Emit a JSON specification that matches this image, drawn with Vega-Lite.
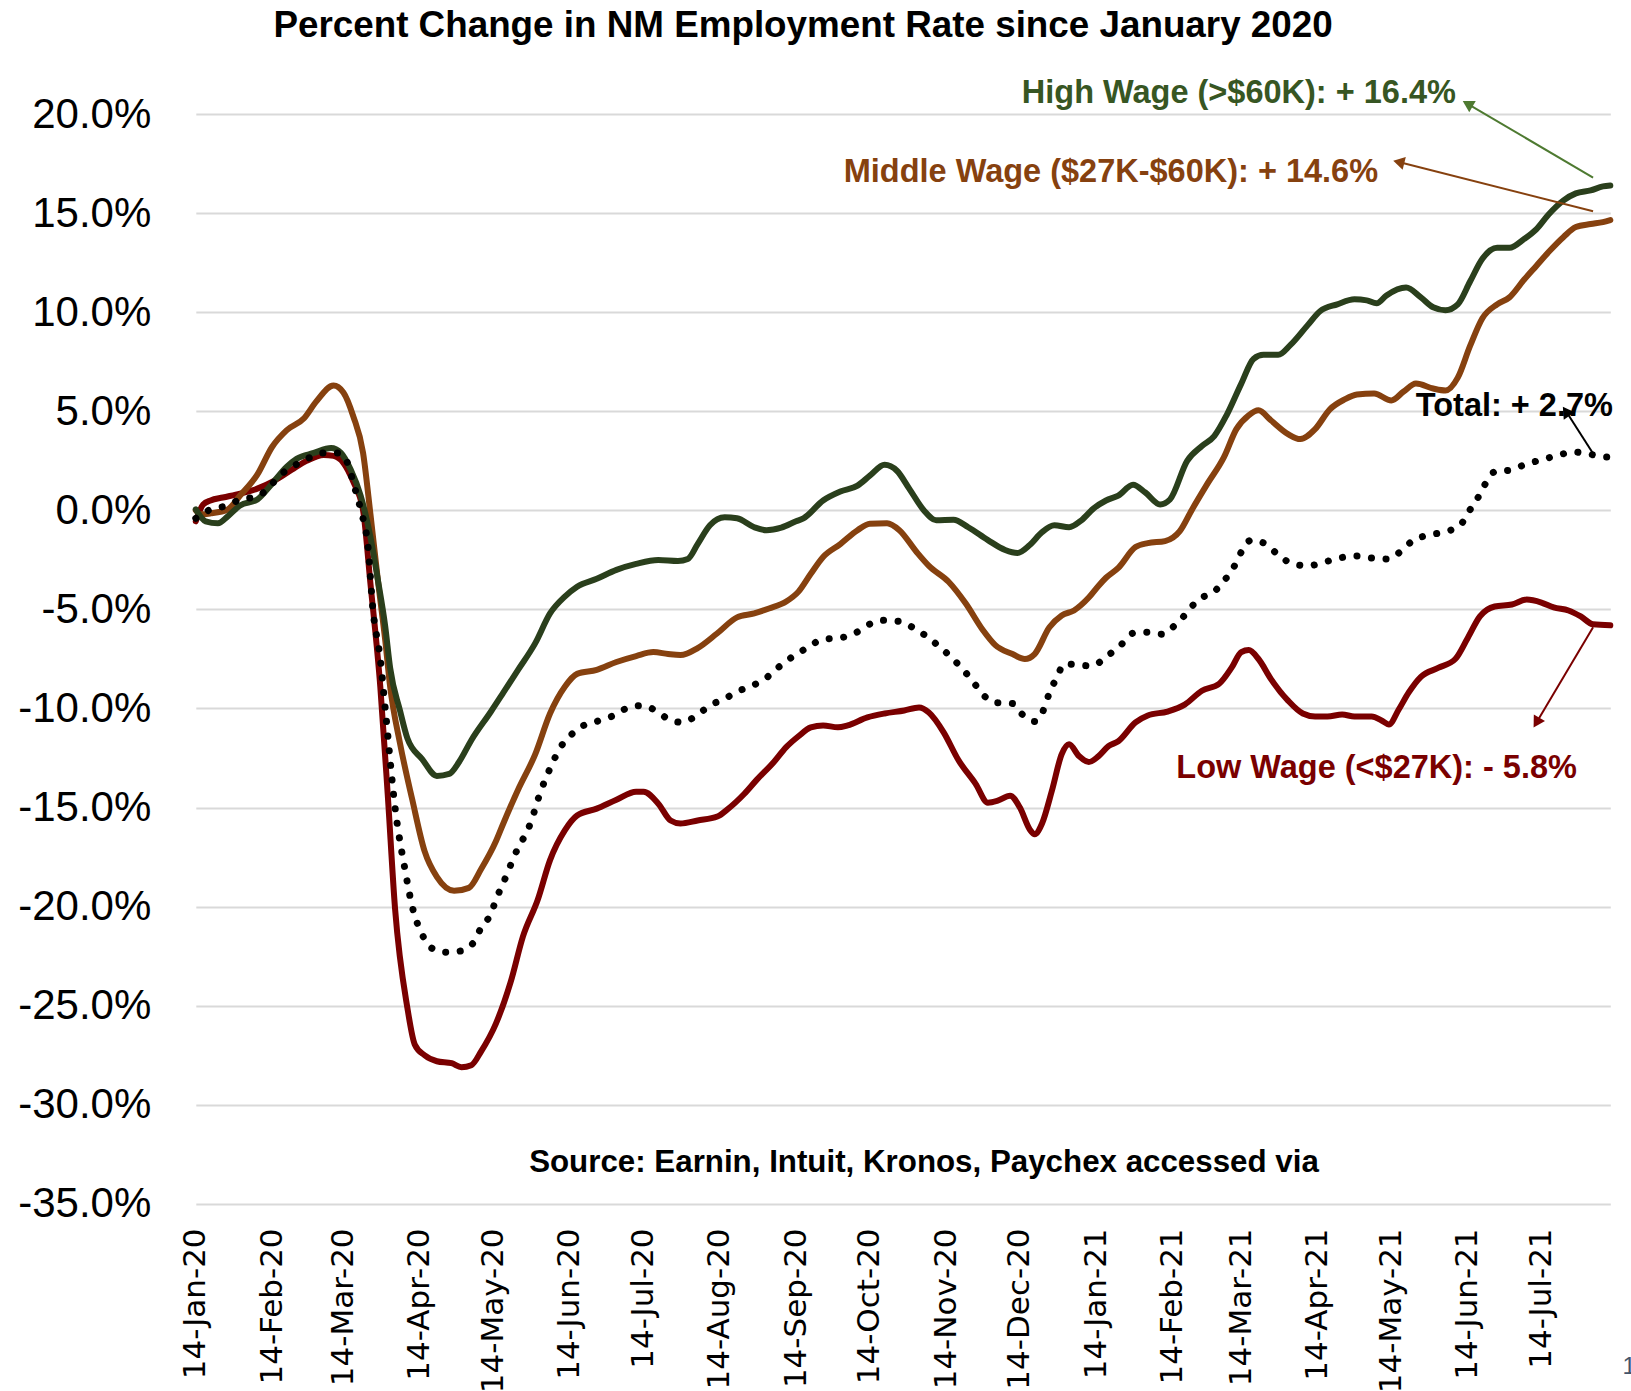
{
  "$schema": "https://vega.github.io/schema/vega-lite/v6.json",
  "width": 1414.5,
  "height": 1089.8,
  "autosize": {"type": "none"},
  "padding": {"left": 195.8, "top": 114.1, "right": 20.7, "bottom": 187.1},
  "background": "white",
  "config": {"view": {"stroke": null}, "font": "Liberation Sans"},
  "title": {
    "text": "Percent Change in NM Employment Rate since January 2020",
    "font": "Liberation Sans", "fontSize": 36.8, "fontWeight": "bold", "color": "black",
    "anchor": "middle", "frame": "group", "dx": -100, "offset": 3, "baseline": "alphabetic"
  },
  "datasets": {
    "series": [
      {"date":"2020-01-14","series":"High","pct":0.05},
      {"date":"2020-01-18","series":"High","pct":-0.55},
      {"date":"2020-01-23","series":"High","pct":-0.65},
      {"date":"2020-01-27","series":"High","pct":-0.3},
      {"date":"2020-02-01","series":"High","pct":0.25},
      {"date":"2020-02-08","series":"High","pct":0.55},
      {"date":"2020-02-14","series":"High","pct":1.35},
      {"date":"2020-02-20","series":"High","pct":2.2},
      {"date":"2020-02-24","series":"High","pct":2.6},
      {"date":"2020-03-02","series":"High","pct":2.9},
      {"date":"2020-03-09","series":"High","pct":3.15},
      {"date":"2020-03-13","series":"High","pct":2.9},
      {"date":"2020-03-17","series":"High","pct":2.05},
      {"date":"2020-03-21","series":"High","pct":0.75},
      {"date":"2020-03-25","series":"High","pct":-1.35},
      {"date":"2020-03-28","series":"High","pct":-3.5},
      {"date":"2020-03-31","series":"High","pct":-5.85},
      {"date":"2020-04-02","series":"High","pct":-7.95},
      {"date":"2020-04-06","series":"High","pct":-10.1},
      {"date":"2020-04-09","series":"High","pct":-11.5},
      {"date":"2020-04-15","series":"High","pct":-12.55},
      {"date":"2020-04-21","series":"High","pct":-13.4},
      {"date":"2020-04-26","series":"High","pct":-13.3},
      {"date":"2020-04-30","series":"High","pct":-12.7},
      {"date":"2020-05-05","series":"High","pct":-11.6},
      {"date":"2020-05-13","series":"High","pct":-10.15},
      {"date":"2020-05-18","series":"High","pct":-9.2},
      {"date":"2020-05-24","series":"High","pct":-8.05},
      {"date":"2020-05-31","series":"High","pct":-6.7},
      {"date":"2020-06-06","series":"High","pct":-5.2},
      {"date":"2020-06-12","series":"High","pct":-4.35},
      {"date":"2020-06-17","series":"High","pct":-3.85},
      {"date":"2020-06-25","series":"High","pct":-3.45},
      {"date":"2020-07-03","series":"High","pct":-3.0},
      {"date":"2020-07-11","series":"High","pct":-2.7},
      {"date":"2020-07-20","series":"High","pct":-2.5},
      {"date":"2020-07-28","series":"High","pct":-2.55},
      {"date":"2020-08-01","series":"High","pct":-2.45},
      {"date":"2020-08-05","series":"High","pct":-1.7},
      {"date":"2020-08-10","series":"High","pct":-0.75},
      {"date":"2020-08-16","series":"High","pct":-0.35},
      {"date":"2020-08-21","series":"High","pct":-0.4},
      {"date":"2020-08-28","series":"High","pct":-0.85},
      {"date":"2020-09-02","series":"High","pct":-1.0},
      {"date":"2020-09-08","series":"High","pct":-0.87},
      {"date":"2020-09-14","series":"High","pct":-0.55},
      {"date":"2020-09-17","series":"High","pct":-0.4},
      {"date":"2020-09-25","series":"High","pct":0.5},
      {"date":"2020-10-02","series":"High","pct":0.95},
      {"date":"2020-10-09","series":"High","pct":1.25},
      {"date":"2020-10-14","series":"High","pct":1.75},
      {"date":"2020-10-20","series":"High","pct":2.3},
      {"date":"2020-10-25","series":"High","pct":2.0},
      {"date":"2020-10-30","series":"High","pct":1.1},
      {"date":"2020-11-05","series":"High","pct":0.0},
      {"date":"2020-11-10","series":"High","pct":-0.5},
      {"date":"2020-11-17","series":"High","pct":-0.47},
      {"date":"2020-11-23","series":"High","pct":-0.85},
      {"date":"2020-12-01","series":"High","pct":-1.5},
      {"date":"2020-12-08","series":"High","pct":-2.0},
      {"date":"2020-12-13","series":"High","pct":-2.15},
      {"date":"2020-12-18","series":"High","pct":-1.75},
      {"date":"2020-12-23","series":"High","pct":-1.1},
      {"date":"2020-12-28","series":"High","pct":-0.75},
      {"date":"2021-01-03","series":"High","pct":-0.85},
      {"date":"2021-01-08","series":"High","pct":-0.5},
      {"date":"2021-01-13","series":"High","pct":0.1},
      {"date":"2021-01-18","series":"High","pct":0.5},
      {"date":"2021-01-23","series":"High","pct":0.75},
      {"date":"2021-01-29","series":"High","pct":1.3},
      {"date":"2021-02-03","series":"High","pct":0.9},
      {"date":"2021-02-09","series":"High","pct":0.3},
      {"date":"2021-02-13","series":"High","pct":0.55},
      {"date":"2021-02-20","series":"High","pct":2.5},
      {"date":"2021-02-26","series":"High","pct":3.25},
      {"date":"2021-03-03","series":"High","pct":3.75},
      {"date":"2021-03-08","series":"High","pct":4.8},
      {"date":"2021-03-14","series":"High","pct":6.4},
      {"date":"2021-03-19","series":"High","pct":7.65},
      {"date":"2021-03-23","series":"High","pct":7.85},
      {"date":"2021-03-29","series":"High","pct":7.85},
      {"date":"2021-04-03","series":"High","pct":8.35},
      {"date":"2021-04-10","series":"High","pct":9.35},
      {"date":"2021-04-15","series":"High","pct":10.05},
      {"date":"2021-04-22","series":"High","pct":10.4},
      {"date":"2021-04-29","series":"High","pct":10.65},
      {"date":"2021-05-04","series":"High","pct":10.6},
      {"date":"2021-05-08","series":"High","pct":10.45},
      {"date":"2021-05-12","series":"High","pct":10.85},
      {"date":"2021-05-20","series":"High","pct":11.25},
      {"date":"2021-05-26","series":"High","pct":10.75},
      {"date":"2021-05-31","series":"High","pct":10.25},
      {"date":"2021-06-05","series":"High","pct":10.1},
      {"date":"2021-06-10","series":"High","pct":10.4},
      {"date":"2021-06-15","series":"High","pct":11.55},
      {"date":"2021-06-20","series":"High","pct":12.7},
      {"date":"2021-06-26","series":"High","pct":13.25},
      {"date":"2021-07-01","series":"High","pct":13.25},
      {"date":"2021-07-07","series":"High","pct":13.7},
      {"date":"2021-07-12","series":"High","pct":14.2},
      {"date":"2021-07-17","series":"High","pct":14.95},
      {"date":"2021-07-23","series":"High","pct":15.65},
      {"date":"2021-07-28","series":"High","pct":16.0},
      {"date":"2021-08-03","series":"High","pct":16.15},
      {"date":"2021-08-08","series":"High","pct":16.35},
      {"date":"2021-08-11","series":"High","pct":16.4},

      {"date":"2020-01-14","series":"Middle","pct":0.0},
      {"date":"2020-01-16","series":"Middle","pct":-0.2},
      {"date":"2020-01-20","series":"Middle","pct":-0.15},
      {"date":"2020-01-27","series":"Middle","pct":0.05},
      {"date":"2020-02-01","series":"Middle","pct":0.75},
      {"date":"2020-02-08","series":"Middle","pct":1.8},
      {"date":"2020-02-14","series":"Middle","pct":3.2},
      {"date":"2020-02-20","series":"Middle","pct":4.05},
      {"date":"2020-02-27","series":"Middle","pct":4.65},
      {"date":"2020-03-03","series":"Middle","pct":5.5},
      {"date":"2020-03-10","series":"Middle","pct":6.3},
      {"date":"2020-03-14","series":"Middle","pct":5.95},
      {"date":"2020-03-18","series":"Middle","pct":4.75},
      {"date":"2020-03-22","series":"Middle","pct":2.9},
      {"date":"2020-03-25","series":"Middle","pct":-0.2},
      {"date":"2020-03-28","series":"Middle","pct":-3.5},
      {"date":"2020-03-31","series":"Middle","pct":-6.55},
      {"date":"2020-04-02","series":"Middle","pct":-8.9},
      {"date":"2020-04-06","series":"Middle","pct":-11.75},
      {"date":"2020-04-11","series":"Middle","pct":-14.6},
      {"date":"2020-04-16","series":"Middle","pct":-17.2},
      {"date":"2020-04-21","series":"Middle","pct":-18.5},
      {"date":"2020-04-28","series":"Middle","pct":-19.2},
      {"date":"2020-05-04","series":"Middle","pct":-19.05},
      {"date":"2020-05-09","series":"Middle","pct":-18.1},
      {"date":"2020-05-15","series":"Middle","pct":-16.7},
      {"date":"2020-05-18","series":"Middle","pct":-15.8},
      {"date":"2020-05-24","series":"Middle","pct":-14.1},
      {"date":"2020-05-31","series":"Middle","pct":-12.3},
      {"date":"2020-06-06","series":"Middle","pct":-10.25},
      {"date":"2020-06-12","series":"Middle","pct":-8.9},
      {"date":"2020-06-17","series":"Middle","pct":-8.25},
      {"date":"2020-06-25","series":"Middle","pct":-8.05},
      {"date":"2020-07-03","series":"Middle","pct":-7.65},
      {"date":"2020-07-11","series":"Middle","pct":-7.35},
      {"date":"2020-07-18","series":"Middle","pct":-7.15},
      {"date":"2020-07-24","series":"Middle","pct":-7.25},
      {"date":"2020-07-29","series":"Middle","pct":-7.3},
      {"date":"2020-08-05","series":"Middle","pct":-6.95},
      {"date":"2020-08-13","series":"Middle","pct":-6.2},
      {"date":"2020-08-21","series":"Middle","pct":-5.4},
      {"date":"2020-08-28","series":"Middle","pct":-5.2},
      {"date":"2020-09-03","series":"Middle","pct":-4.95},
      {"date":"2020-09-10","series":"Middle","pct":-4.6},
      {"date":"2020-09-15","series":"Middle","pct":-4.1},
      {"date":"2020-09-20","series":"Middle","pct":-3.2},
      {"date":"2020-09-25","series":"Middle","pct":-2.35},
      {"date":"2020-10-02","series":"Middle","pct":-1.7},
      {"date":"2020-10-09","series":"Middle","pct":-1.0},
      {"date":"2020-10-14","series":"Middle","pct":-0.67},
      {"date":"2020-10-21","series":"Middle","pct":-0.65},
      {"date":"2020-10-26","series":"Middle","pct":-1.0},
      {"date":"2020-11-02","series":"Middle","pct":-2.1},
      {"date":"2020-11-07","series":"Middle","pct":-2.8},
      {"date":"2020-11-15","series":"Middle","pct":-3.6},
      {"date":"2020-11-22","series":"Middle","pct":-4.7},
      {"date":"2020-11-29","series":"Middle","pct":-6.05},
      {"date":"2020-12-04","series":"Middle","pct":-6.8},
      {"date":"2020-12-11","series":"Middle","pct":-7.25},
      {"date":"2020-12-16","series":"Middle","pct":-7.5},
      {"date":"2020-12-20","series":"Middle","pct":-7.25},
      {"date":"2020-12-26","series":"Middle","pct":-5.9},
      {"date":"2020-12-31","series":"Middle","pct":-5.3},
      {"date":"2021-01-05","series":"Middle","pct":-5.05},
      {"date":"2021-01-11","series":"Middle","pct":-4.4},
      {"date":"2021-01-15","series":"Middle","pct":-3.8},
      {"date":"2021-01-18","series":"Middle","pct":-3.4},
      {"date":"2021-01-23","series":"Middle","pct":-2.9},
      {"date":"2021-01-30","series":"Middle","pct":-1.85},
      {"date":"2021-02-04","series":"Middle","pct":-1.65},
      {"date":"2021-02-11","series":"Middle","pct":-1.55},
      {"date":"2021-02-17","series":"Middle","pct":-1.05},
      {"date":"2021-02-22","series":"Middle","pct":0.05},
      {"date":"2021-02-28","series":"Middle","pct":1.3},
      {"date":"2021-03-07","series":"Middle","pct":2.7},
      {"date":"2021-03-12","series":"Middle","pct":4.1},
      {"date":"2021-03-17","series":"Middle","pct":4.8},
      {"date":"2021-03-21","series":"Middle","pct":5.05},
      {"date":"2021-03-26","series":"Middle","pct":4.55},
      {"date":"2021-04-02","series":"Middle","pct":3.85},
      {"date":"2021-04-07","series":"Middle","pct":3.6},
      {"date":"2021-04-13","series":"Middle","pct":4.1},
      {"date":"2021-04-19","series":"Middle","pct":5.1},
      {"date":"2021-04-25","series":"Middle","pct":5.6},
      {"date":"2021-04-30","series":"Middle","pct":5.85},
      {"date":"2021-05-07","series":"Middle","pct":5.9},
      {"date":"2021-05-14","series":"Middle","pct":5.55},
      {"date":"2021-05-19","series":"Middle","pct":6.0},
      {"date":"2021-05-24","series":"Middle","pct":6.4},
      {"date":"2021-05-31","series":"Middle","pct":6.15},
      {"date":"2021-06-05","series":"Middle","pct":6.05},
      {"date":"2021-06-10","series":"Middle","pct":6.7},
      {"date":"2021-06-15","series":"Middle","pct":8.3},
      {"date":"2021-06-20","series":"Middle","pct":9.7},
      {"date":"2021-06-26","series":"Middle","pct":10.4},
      {"date":"2021-07-01","series":"Middle","pct":10.75},
      {"date":"2021-07-07","series":"Middle","pct":11.65},
      {"date":"2021-07-12","series":"Middle","pct":12.35},
      {"date":"2021-07-17","series":"Middle","pct":13.05},
      {"date":"2021-07-23","series":"Middle","pct":13.8},
      {"date":"2021-07-28","series":"Middle","pct":14.3},
      {"date":"2021-08-03","series":"Middle","pct":14.45},
      {"date":"2021-08-08","series":"Middle","pct":14.55},
      {"date":"2021-08-11","series":"Middle","pct":14.65},

      {"date":"2020-01-14","series":"Low","pct":-0.55},
      {"date":"2020-01-17","series":"Low","pct":0.3},
      {"date":"2020-01-20","series":"Low","pct":0.5},
      {"date":"2020-01-25","series":"Low","pct":0.65},
      {"date":"2020-02-01","series":"Low","pct":0.85},
      {"date":"2020-02-08","series":"Low","pct":1.1},
      {"date":"2020-02-15","series":"Low","pct":1.5},
      {"date":"2020-02-22","series":"Low","pct":2.05},
      {"date":"2020-02-28","series":"Low","pct":2.5},
      {"date":"2020-03-06","series":"Low","pct":2.8},
      {"date":"2020-03-10","series":"Low","pct":2.75},
      {"date":"2020-03-14","series":"Low","pct":2.4},
      {"date":"2020-03-18","series":"Low","pct":1.45},
      {"date":"2020-03-22","series":"Low","pct":0.0},
      {"date":"2020-03-25","series":"Low","pct":-3.7},
      {"date":"2020-03-29","series":"Low","pct":-8.9},
      {"date":"2020-04-01","series":"Low","pct":-14.3},
      {"date":"2020-04-04","series":"Low","pct":-20.1},
      {"date":"2020-04-09","series":"Low","pct":-25.1},
      {"date":"2020-04-12","series":"Low","pct":-26.95},
      {"date":"2020-04-16","series":"Low","pct":-27.5},
      {"date":"2020-04-21","series":"Low","pct":-27.8},
      {"date":"2020-04-27","series":"Low","pct":-27.9},
      {"date":"2020-05-01","series":"Low","pct":-28.1},
      {"date":"2020-05-05","series":"Low","pct":-28.0},
      {"date":"2020-05-09","series":"Low","pct":-27.3},
      {"date":"2020-05-15","series":"Low","pct":-25.9},
      {"date":"2020-05-21","series":"Low","pct":-23.8},
      {"date":"2020-05-26","series":"Low","pct":-21.5},
      {"date":"2020-06-01","series":"Low","pct":-19.65},
      {"date":"2020-06-06","series":"Low","pct":-17.65},
      {"date":"2020-06-12","series":"Low","pct":-16.15},
      {"date":"2020-06-17","series":"Low","pct":-15.4},
      {"date":"2020-06-25","series":"Low","pct":-15.05},
      {"date":"2020-07-03","series":"Low","pct":-14.6},
      {"date":"2020-07-11","series":"Low","pct":-14.2},
      {"date":"2020-07-14","series":"Low","pct":-14.2},
      {"date":"2020-07-20","series":"Low","pct":-14.8},
      {"date":"2020-07-25","series":"Low","pct":-15.65},
      {"date":"2020-07-29","series":"Low","pct":-15.8},
      {"date":"2020-08-05","series":"Low","pct":-15.65},
      {"date":"2020-08-13","series":"Low","pct":-15.45},
      {"date":"2020-08-17","series":"Low","pct":-15.1},
      {"date":"2020-08-24","series":"Low","pct":-14.3},
      {"date":"2020-08-29","series":"Low","pct":-13.6},
      {"date":"2020-09-05","series":"Low","pct":-12.7},
      {"date":"2020-09-10","series":"Low","pct":-11.95},
      {"date":"2020-09-15","series":"Low","pct":-11.4},
      {"date":"2020-09-20","series":"Low","pct":-10.95},
      {"date":"2020-09-25","series":"Low","pct":-10.85},
      {"date":"2020-10-01","series":"Low","pct":-10.95},
      {"date":"2020-10-05","series":"Low","pct":-10.85},
      {"date":"2020-10-13","series":"Low","pct":-10.45},
      {"date":"2020-10-20","series":"Low","pct":-10.25},
      {"date":"2020-10-28","series":"Low","pct":-10.1},
      {"date":"2020-11-03","series":"Low","pct":-9.95},
      {"date":"2020-11-07","series":"Low","pct":-10.2},
      {"date":"2020-11-13","series":"Low","pct":-11.2},
      {"date":"2020-11-19","series":"Low","pct":-12.6},
      {"date":"2020-11-26","series":"Low","pct":-13.8},
      {"date":"2020-12-01","series":"Low","pct":-14.75},
      {"date":"2020-12-05","series":"Low","pct":-14.65},
      {"date":"2020-12-10","series":"Low","pct":-14.4},
      {"date":"2020-12-14","series":"Low","pct":-15.0},
      {"date":"2020-12-18","series":"Low","pct":-16.1},
      {"date":"2020-12-20","series":"Low","pct":-16.35},
      {"date":"2020-12-23","series":"Low","pct":-15.8},
      {"date":"2020-12-27","series":"Low","pct":-14.15},
      {"date":"2020-12-31","series":"Low","pct":-12.3},
      {"date":"2021-01-03","series":"Low","pct":-11.8},
      {"date":"2021-01-07","series":"Low","pct":-12.4},
      {"date":"2021-01-11","series":"Low","pct":-12.7},
      {"date":"2021-01-15","series":"Low","pct":-12.4},
      {"date":"2021-01-19","series":"Low","pct":-11.9},
      {"date":"2021-01-23","series":"Low","pct":-11.65},
      {"date":"2021-01-30","series":"Low","pct":-10.7},
      {"date":"2021-02-04","series":"Low","pct":-10.35},
      {"date":"2021-02-12","series":"Low","pct":-10.15},
      {"date":"2021-02-19","series":"Low","pct":-9.8},
      {"date":"2021-02-26","series":"Low","pct":-9.1},
      {"date":"2021-03-05","series":"Low","pct":-8.75},
      {"date":"2021-03-10","series":"Low","pct":-7.95},
      {"date":"2021-03-14","series":"Low","pct":-7.15},
      {"date":"2021-03-17","series":"Low","pct":-7.05},
      {"date":"2021-03-21","series":"Low","pct":-7.5},
      {"date":"2021-03-26","series":"Low","pct":-8.5},
      {"date":"2021-04-02","series":"Low","pct":-9.6},
      {"date":"2021-04-08","series":"Low","pct":-10.25},
      {"date":"2021-04-13","series":"Low","pct":-10.4},
      {"date":"2021-04-18","series":"Low","pct":-10.4},
      {"date":"2021-04-24","series":"Low","pct":-10.3},
      {"date":"2021-04-29","series":"Low","pct":-10.4},
      {"date":"2021-05-06","series":"Low","pct":-10.4},
      {"date":"2021-05-10","series":"Low","pct":-10.6},
      {"date":"2021-05-13","series":"Low","pct":-10.8},
      {"date":"2021-05-17","series":"Low","pct":-10.05},
      {"date":"2021-05-21","series":"Low","pct":-9.2},
      {"date":"2021-05-26","series":"Low","pct":-8.4},
      {"date":"2021-06-02","series":"Low","pct":-7.95},
      {"date":"2021-06-09","series":"Low","pct":-7.5},
      {"date":"2021-06-14","series":"Low","pct":-6.45},
      {"date":"2021-06-19","series":"Low","pct":-5.35},
      {"date":"2021-06-25","series":"Low","pct":-4.85},
      {"date":"2021-07-02","series":"Low","pct":-4.75},
      {"date":"2021-07-08","series":"Low","pct":-4.5},
      {"date":"2021-07-14","series":"Low","pct":-4.65},
      {"date":"2021-07-19","series":"Low","pct":-4.9},
      {"date":"2021-07-25","series":"Low","pct":-5.05},
      {"date":"2021-07-30","series":"Low","pct":-5.35},
      {"date":"2021-08-04","series":"Low","pct":-5.75},
      {"date":"2021-08-11","series":"Low","pct":-5.8},

      {"date":"2020-01-14","series":"Total","pct":-0.4},
      {"date":"2020-01-20","series":"Total","pct":0.05},
      {"date":"2020-01-27","series":"Total","pct":0.25},
      {"date":"2020-02-01","series":"Total","pct":0.55},
      {"date":"2020-02-08","series":"Total","pct":0.7},
      {"date":"2020-02-13","series":"Total","pct":1.2},
      {"date":"2020-02-17","series":"Total","pct":1.75},
      {"date":"2020-02-23","series":"Total","pct":2.25},
      {"date":"2020-02-29","series":"Total","pct":2.65},
      {"date":"2020-03-06","series":"Total","pct":2.9},
      {"date":"2020-03-12","series":"Total","pct":2.9},
      {"date":"2020-03-16","series":"Total","pct":2.3},
      {"date":"2020-03-18","series":"Total","pct":1.4},
      {"date":"2020-03-21","series":"Total","pct":0.05},
      {"date":"2020-03-24","series":"Total","pct":-1.85},
      {"date":"2020-03-26","series":"Total","pct":-5.0},
      {"date":"2020-03-29","series":"Total","pct":-7.5},
      {"date":"2020-03-31","series":"Total","pct":-10.0},
      {"date":"2020-04-04","series":"Total","pct":-15.0},
      {"date":"2020-04-08","series":"Total","pct":-18.1},
      {"date":"2020-04-11","series":"Total","pct":-20.0},
      {"date":"2020-04-15","series":"Total","pct":-21.4},
      {"date":"2020-04-19","series":"Total","pct":-22.1},
      {"date":"2020-04-24","series":"Total","pct":-22.3},
      {"date":"2020-04-30","series":"Total","pct":-22.25},
      {"date":"2020-05-06","series":"Total","pct":-21.8},
      {"date":"2020-05-09","series":"Total","pct":-21.05},
      {"date":"2020-05-13","series":"Total","pct":-20.35},
      {"date":"2020-05-15","series":"Total","pct":-19.65},
      {"date":"2020-05-18","series":"Total","pct":-18.8},
      {"date":"2020-05-23","series":"Total","pct":-17.3},
      {"date":"2020-05-29","series":"Total","pct":-15.8},
      {"date":"2020-06-02","series":"Total","pct":-14.25},
      {"date":"2020-06-07","series":"Total","pct":-12.75},
      {"date":"2020-06-10","series":"Total","pct":-12.0},
      {"date":"2020-06-14","series":"Total","pct":-11.4},
      {"date":"2020-06-19","series":"Total","pct":-10.9},
      {"date":"2020-06-25","series":"Total","pct":-10.65},
      {"date":"2020-07-01","series":"Total","pct":-10.4},
      {"date":"2020-07-07","series":"Total","pct":-10.0},
      {"date":"2020-07-13","series":"Total","pct":-9.85},
      {"date":"2020-07-19","series":"Total","pct":-10.1},
      {"date":"2020-07-25","series":"Total","pct":-10.6},
      {"date":"2020-07-30","series":"Total","pct":-10.7},
      {"date":"2020-08-05","series":"Total","pct":-10.3},
      {"date":"2020-08-10","series":"Total","pct":-9.85},
      {"date":"2020-08-16","series":"Total","pct":-9.5},
      {"date":"2020-08-22","series":"Total","pct":-9.1},
      {"date":"2020-08-28","series":"Total","pct":-8.8},
      {"date":"2020-09-03","series":"Total","pct":-8.35},
      {"date":"2020-09-08","series":"Total","pct":-7.8},
      {"date":"2020-09-13","series":"Total","pct":-7.35},
      {"date":"2020-09-19","series":"Total","pct":-6.9},
      {"date":"2020-09-25","series":"Total","pct":-6.5},
      {"date":"2020-10-01","series":"Total","pct":-6.45},
      {"date":"2020-10-08","series":"Total","pct":-6.2},
      {"date":"2020-10-13","series":"Total","pct":-5.8},
      {"date":"2020-10-19","series":"Total","pct":-5.55},
      {"date":"2020-10-26","series":"Total","pct":-5.6},
      {"date":"2020-11-01","series":"Total","pct":-5.95},
      {"date":"2020-11-06","series":"Total","pct":-6.35},
      {"date":"2020-11-11","series":"Total","pct":-6.85},
      {"date":"2020-11-16","series":"Total","pct":-7.4},
      {"date":"2020-11-21","series":"Total","pct":-8.05},
      {"date":"2020-11-25","series":"Total","pct":-8.65},
      {"date":"2020-11-29","series":"Total","pct":-9.3},
      {"date":"2020-12-04","series":"Total","pct":-9.7},
      {"date":"2020-12-11","series":"Total","pct":-9.75},
      {"date":"2020-12-15","series":"Total","pct":-10.3},
      {"date":"2020-12-20","series":"Total","pct":-10.65},
      {"date":"2020-12-24","series":"Total","pct":-9.95},
      {"date":"2020-12-26","series":"Total","pct":-9.2},
      {"date":"2020-12-29","series":"Total","pct":-8.45},
      {"date":"2021-01-01","series":"Total","pct":-7.75},
      {"date":"2021-01-07","series":"Total","pct":-7.8},
      {"date":"2021-01-12","series":"Total","pct":-7.85},
      {"date":"2021-01-19","series":"Total","pct":-7.3},
      {"date":"2021-01-24","series":"Total","pct":-6.8},
      {"date":"2021-01-29","series":"Total","pct":-6.2},
      {"date":"2021-02-04","series":"Total","pct":-6.15},
      {"date":"2021-02-10","series":"Total","pct":-6.25},
      {"date":"2021-02-15","series":"Total","pct":-5.8},
      {"date":"2021-02-20","series":"Total","pct":-5.15},
      {"date":"2021-02-24","series":"Total","pct":-4.55},
      {"date":"2021-03-03","series":"Total","pct":-4.1},
      {"date":"2021-03-07","series":"Total","pct":-3.55},
      {"date":"2021-03-11","series":"Total","pct":-2.85},
      {"date":"2021-03-14","series":"Total","pct":-2.1},
      {"date":"2021-03-18","series":"Total","pct":-1.5},
      {"date":"2021-03-24","series":"Total","pct":-1.7},
      {"date":"2021-03-29","series":"Total","pct":-2.25},
      {"date":"2021-04-04","series":"Total","pct":-2.7},
      {"date":"2021-04-10","series":"Total","pct":-2.8},
      {"date":"2021-04-17","series":"Total","pct":-2.6},
      {"date":"2021-04-23","series":"Total","pct":-2.4},
      {"date":"2021-04-30","series":"Total","pct":-2.3},
      {"date":"2021-05-06","series":"Total","pct":-2.4},
      {"date":"2021-05-13","series":"Total","pct":-2.45},
      {"date":"2021-05-18","series":"Total","pct":-2.05},
      {"date":"2021-05-23","series":"Total","pct":-1.5},
      {"date":"2021-05-29","series":"Total","pct":-1.25},
      {"date":"2021-06-04","series":"Total","pct":-1.1},
      {"date":"2021-06-11","series":"Total","pct":-0.75},
      {"date":"2021-06-14","series":"Total","pct":-0.15},
      {"date":"2021-06-18","series":"Total","pct":0.6},
      {"date":"2021-06-21","series":"Total","pct":1.3},
      {"date":"2021-06-25","series":"Total","pct":1.95},
      {"date":"2021-07-02","series":"Total","pct":2.05},
      {"date":"2021-07-07","series":"Total","pct":2.3},
      {"date":"2021-07-14","series":"Total","pct":2.55},
      {"date":"2021-07-20","series":"Total","pct":2.75},
      {"date":"2021-07-27","series":"Total","pct":2.95},
      {"date":"2021-08-02","series":"Total","pct":2.85},
      {"date":"2021-08-09","series":"Total","pct":2.7},
      {"date":"2021-08-11","series":"Total","pct":2.7}
    ],
    "ticks": [
      {"date":"2020-01-14"},{"date":"2020-02-14"},{"date":"2020-03-14"},{"date":"2020-04-14"},
      {"date":"2020-05-14"},{"date":"2020-06-14"},{"date":"2020-07-14"},{"date":"2020-08-14"},
      {"date":"2020-09-14"},{"date":"2020-10-14"},{"date":"2020-11-14"},{"date":"2020-12-14"},
      {"date":"2021-01-14"},{"date":"2021-02-14"},{"date":"2021-03-14"},{"date":"2021-04-14"},
      {"date":"2021-05-14"},{"date":"2021-06-14"},{"date":"2021-07-14"}
    ],
    "axisline": [{"date":"2020-01-14","date2":"2021-08-11"}],
    "arrows": [
      {"series":"High","date":"2021-08-04","pct":16.79,"date2":"2021-06-14","pct2":20.52},
      {"series":"Middle","date":"2021-08-04","pct":15.1,"date2":"2021-05-17","pct2":17.58},
      {"series":"Total","date":"2021-08-04","pct":2.87,"date2":"2021-07-24","pct2":5.0},
      {"series":"Low","date":"2021-08-04","pct":-5.9,"date2":"2021-07-12","pct2":-10.71}
    ],
    "notes": [
      {"label":"High Wage (>$60K): + 16.4%","series":"High","date":"2021-03-13","pct":21.09},
      {"label":"Middle Wage ($27K-$60K): + 14.6%","series":"Middle","date":"2021-01-20","pct":17.1},
      {"label":"Total: + 2.7%","series":"Total","date":"2021-07-03","pct":5.28},
      {"label":"Low Wage (<$27K): - 5.8%","series":"Low","date":"2021-05-08","pct":-12.99}
    ],
    "source": [{"label":"Source: Earnin, Intuit, Kronos, Paychex accessed via","date":"2020-11-05","pct":-32.95}],
    "page": [{"label":"1","date":"2021-08-16","pct":-43.25}]
  },
  "encoding": {
    "x": {
      "field": "date", "type": "temporal", "title": null,
      "scale": {"type": "utc", "nice": false, "domain": [{"year":2020,"month":1,"date":14,"utc":true},{"year":2021,"month":8,"date":11,"utc":true}]},
      "axis": {
        "values": [
          {"year":2020,"month":1,"date":14,"utc":true},{"year":2020,"month":2,"date":14,"utc":true},
          {"year":2020,"month":3,"date":14,"utc":true},{"year":2020,"month":4,"date":14,"utc":true},
          {"year":2020,"month":5,"date":14,"utc":true},{"year":2020,"month":6,"date":14,"utc":true},
          {"year":2020,"month":7,"date":14,"utc":true},{"year":2020,"month":8,"date":14,"utc":true},
          {"year":2020,"month":9,"date":14,"utc":true},{"year":2020,"month":10,"date":14,"utc":true},
          {"year":2020,"month":11,"date":14,"utc":true},{"year":2020,"month":12,"date":14,"utc":true},
          {"year":2021,"month":1,"date":14,"utc":true},{"year":2021,"month":2,"date":14,"utc":true},
          {"year":2021,"month":3,"date":14,"utc":true},{"year":2021,"month":4,"date":14,"utc":true},
          {"year":2021,"month":5,"date":14,"utc":true},{"year":2021,"month":6,"date":14,"utc":true},
          {"year":2021,"month":7,"date":14,"utc":true}
        ],
        "labelExpr": "utcFormat(datum.value, '%d-%b-%y')",
        "labelAngle": -90, "labelFont": "DejaVu Sans", "labelFontSize": 31, "labelColor": "black",
        "labelPadding": 24, "ticks": false, "domain": false, "grid": false,
        "labelOverlap": false, "labelBound": false, "labelFlush": false
      }
    },
    "y": {
      "field": "pct", "type": "quantitative", "title": null,
      "scale": {"domain": [-35, 20], "nice": false, "zero": false},
      "axis": {
        "values": [-35, -30, -25, -20, -15, -10, -5, 0, 5, 10, 15, 20],
        "labelExpr": "(datum.value < 0 ? '-' : '') + format(abs(datum.value), '.1f') + '%'",
        "labelFont": "Liberation Sans", "labelFontSize": 42, "labelColor": "black",
        "labelPadding": 45, "ticks": false, "domain": false,
        "grid": true, "gridColor": "#D9D9D9", "gridWidth": 2
      }
    }
  },
  "layer": [
    {
      "data": {"name": "axisline"},
      "mark": {"type": "rule", "color": "black", "strokeWidth": 2},
      "encoding": {"x2": {"field": "date2", "title": null}, "y": {"datum": 0, "type": "quantitative", "title": null}}
    },
    {
      "data": {"name": "ticks"},
      "mark": {"type": "rule", "color": "black", "strokeWidth": 2},
      "encoding": {"y": {"datum": 0, "type": "quantitative", "title": null}, "y2": {"datum": -0.6}}
    },
    {
      "data": {"name": "series"},
      "transform": [{"filter": "datum.series === 'Low'"}],
      "mark": {"type": "line", "color": "#7A0000", "strokeWidth": 6, "interpolate": "monotone", "strokeCap": "round", "strokeJoin": "round"}
    },
    {
      "data": {"name": "series"},
      "transform": [{"filter": "datum.series === 'Middle'"}],
      "mark": {"type": "line", "color": "#86410F", "strokeWidth": 6, "interpolate": "monotone", "strokeCap": "round", "strokeJoin": "round"}
    },
    {
      "data": {"name": "series"},
      "transform": [{"filter": "datum.series === 'High'"}],
      "mark": {"type": "line", "color": "#2A3F1C", "strokeWidth": 6, "interpolate": "monotone", "strokeCap": "round", "strokeJoin": "round"}
    },
    {
      "data": {"name": "series"},
      "transform": [{"filter": "datum.series === 'Total'"}],
      "mark": {"type": "line", "color": "black", "strokeWidth": 7, "interpolate": "monotone", "strokeCap": "round", "strokeDash": [0.1, 14.5]}
    },
    {
      "data": {"name": "arrows"},
      "mark": {"type": "rule", "strokeWidth": 2},
      "encoding": {
        "x2": {"field": "date2", "title": null},
        "y2": {"field": "pct2", "title": null},
        "stroke": {"field": "series", "type": "nominal", "legend": null,
                   "scale": {"domain": ["High", "Middle", "Total", "Low"], "range": ["#4E7A31", "#86410F", "#000000", "#7A0000"]}}
      }
    },
    {
      "data": {"name": "arrows"},
      "transform": [{"filter": "datum.series === 'High'"}],
      "mark": {"type": "point", "shape": "triangle-up", "filled": true, "opacity": 1, "color": "#4E7A31", "size": 170, "angle": 300},
      "encoding": {"x": {"field": "date2", "type": "temporal", "title": null}, "y": {"field": "pct2", "type": "quantitative", "title": null}}
    },
    {
      "data": {"name": "arrows"},
      "transform": [{"filter": "datum.series === 'Middle'"}],
      "mark": {"type": "point", "shape": "triangle-up", "filled": true, "opacity": 1, "color": "#86410F", "size": 170, "angle": 284},
      "encoding": {"x": {"field": "date2", "type": "temporal", "title": null}, "y": {"field": "pct2", "type": "quantitative", "title": null}}
    },
    {
      "data": {"name": "arrows"},
      "transform": [{"filter": "datum.series === 'Total'"}],
      "mark": {"type": "point", "shape": "triangle-up", "filled": true, "opacity": 1, "color": "#000000", "size": 170, "angle": 326},
      "encoding": {"x": {"field": "date2", "type": "temporal", "title": null}, "y": {"field": "pct2", "type": "quantitative", "title": null}}
    },
    {
      "data": {"name": "arrows"},
      "transform": [{"filter": "datum.series === 'Low'"}],
      "mark": {"type": "point", "shape": "triangle-up", "filled": true, "opacity": 1, "color": "#7A0000", "size": 170, "angle": 211},
      "encoding": {"x": {"field": "date2", "type": "temporal", "title": null}, "y": {"field": "pct2", "type": "quantitative", "title": null}}
    },
    {
      "data": {"name": "notes"},
      "mark": {"type": "text", "font": "Liberation Sans", "fontWeight": "bold", "fontSize": 32.5, "align": "center", "baseline": "middle"},
      "encoding": {
        "text": {"field": "label", "type": "nominal"},
        "color": {"field": "series", "type": "nominal", "legend": null,
                  "scale": {"domain": ["High", "Middle", "Total", "Low"], "range": ["#375623", "#86410F", "#000000", "#7A0000"]}}
      }
    },
    {
      "data": {"name": "source"},
      "mark": {"type": "text", "font": "Liberation Sans", "fontWeight": "bold", "fontSize": 31.3, "align": "center", "baseline": "middle", "color": "black"},
      "encoding": {"text": {"field": "label", "type": "nominal"}}
    },
    {
      "data": {"name": "page"},
      "mark": {"type": "text", "font": "Liberation Sans", "fontSize": 24, "align": "left", "baseline": "middle", "color": "#44546A"},
      "encoding": {"text": {"field": "label", "type": "nominal"}}
    }
  ]
}
